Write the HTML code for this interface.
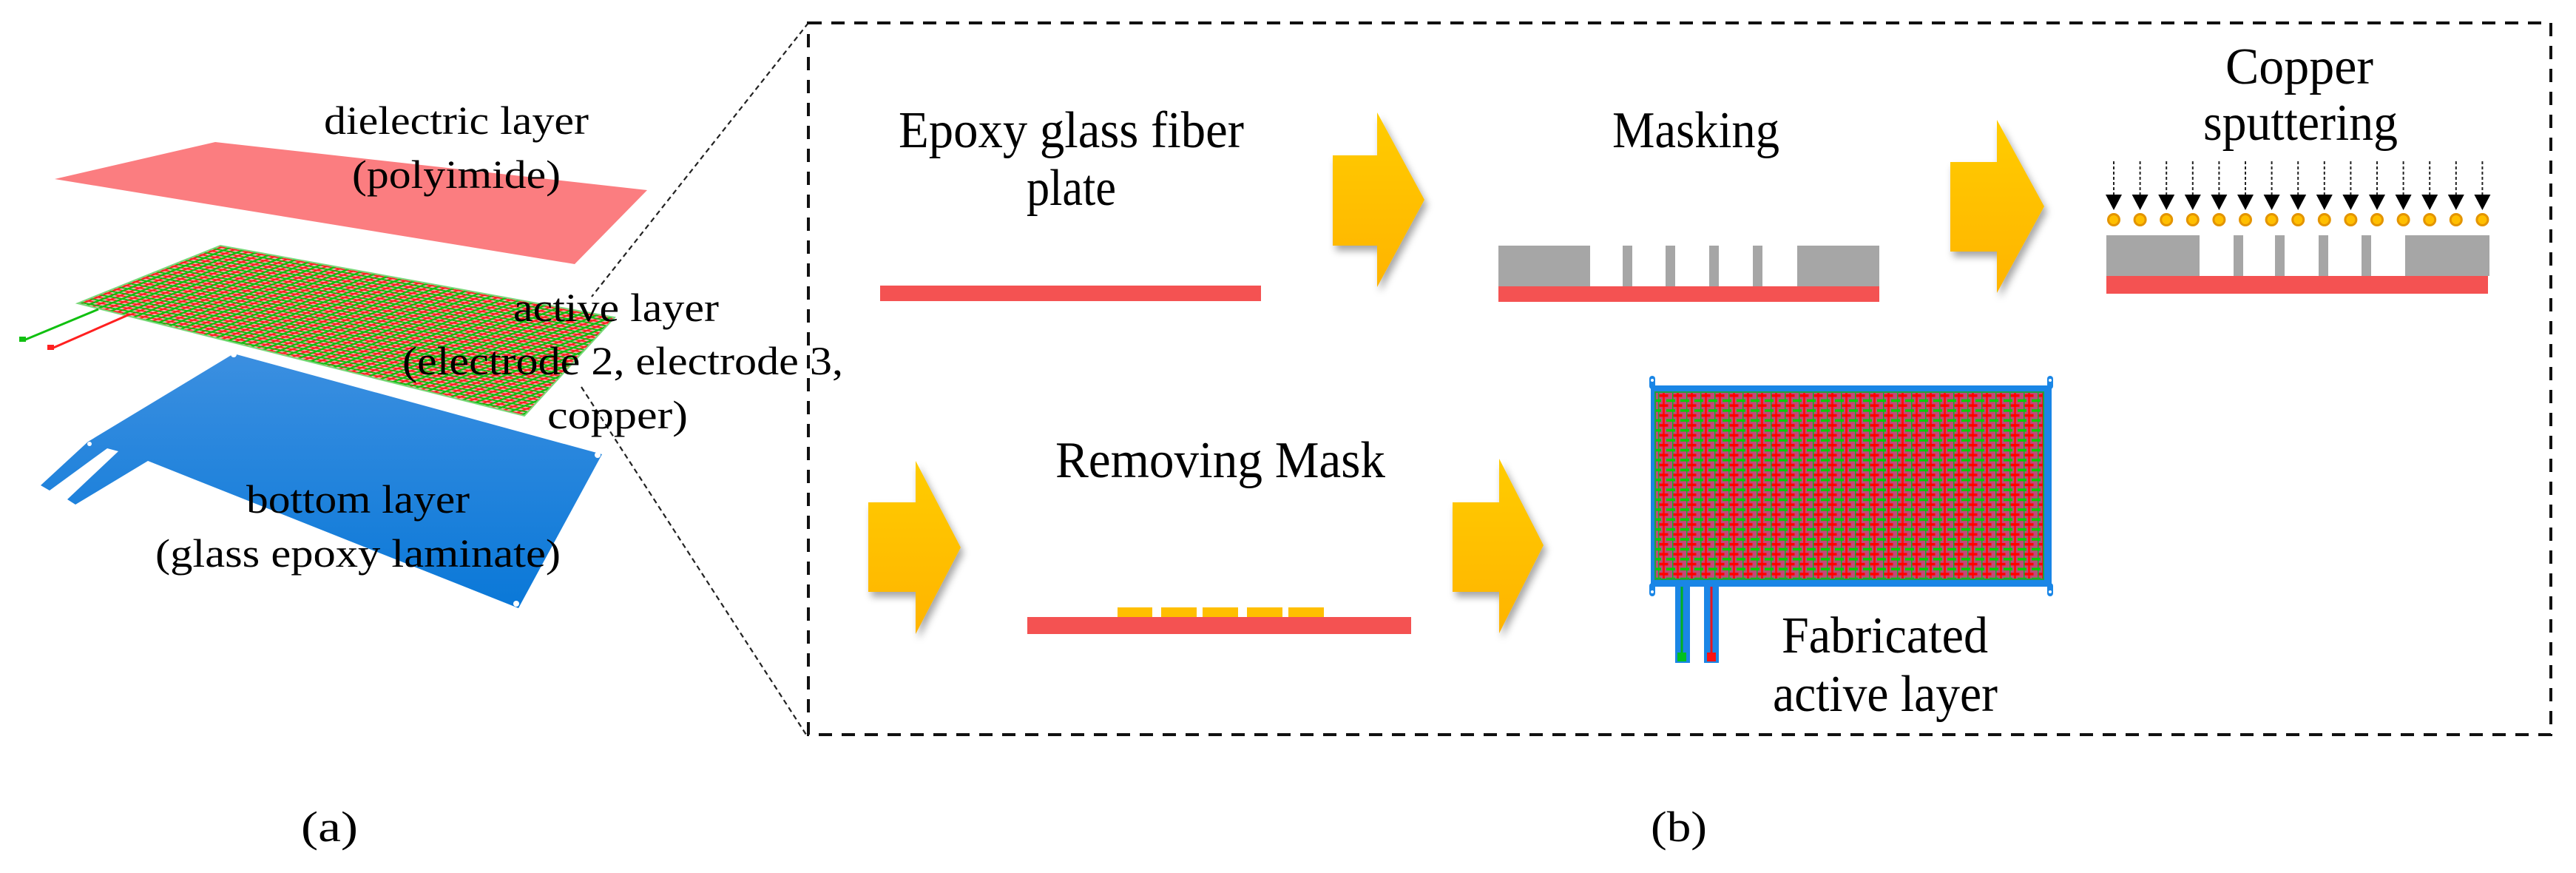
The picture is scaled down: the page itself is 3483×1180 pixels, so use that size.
<!DOCTYPE html>
<html><head><meta charset="utf-8"><style>html,body{margin:0;padding:0;background:#fff}svg{display:block}text{font-family:"Liberation Serif","DejaVu Serif",serif}</style></head>
<body>
<svg width="3483" height="1180" viewBox="0 0 3483 1180" xmlns="http://www.w3.org/2000/svg" style="font-family:'Liberation Serif',serif" fill="#000">
<defs>
  <filter id="sh" x="-30%" y="-30%" width="160%" height="160%">
    <feDropShadow dx="4" dy="7" stdDeviation="5" flood-color="#000" flood-opacity="0.35"/>
  </filter>
  <linearGradient id="yg" x1="0" y1="0" x2="0" y2="1">
    <stop offset="0" stop-color="#ffcc00"/><stop offset="1" stop-color="#ffb400"/>
  </linearGradient>
  <linearGradient id="bg" x1="0" y1="0" x2="0" y2="1">
    <stop offset="0" stop-color="#3b8fe0"/><stop offset="1" stop-color="#0a78d8"/>
  </linearGradient>
  <pattern id="act" patternUnits="userSpaceOnUse" width="10" height="10" patternTransform="matrix(0.0592 0.0108 -0.0429 0.0173 298 332) scale(30)">
    <rect width="10" height="10" fill="#f0b0b0"/>
    <rect x="0" y="1.5" width="10" height="2.2" fill="#ff2020"/>
    <rect x="1.5" y="0" width="2.2" height="10" fill="#ff2020"/>
    <rect x="0" y="6.5" width="10" height="2.4" fill="#10c010"/>
    <rect x="6.5" y="0" width="2.4" height="10" fill="#10c010"/>
  </pattern>
  <pattern id="fab" patternUnits="userSpaceOnUse" x="2240" y="532" width="19" height="13.4">
    <rect width="19" height="13.4" fill="#c04a78"/>
    <rect x="2" y="0" width="1.5" height="13.4" fill="#10b030"/>
    <rect x="8" y="0" width="3" height="13.4" fill="#ff1010"/>
    <rect x="3.5" y="1" width="12" height="3.5" fill="#ff0000"/>
    <rect x="13" y="7.7" width="6" height="3.5" fill="#00d000"/>
    <rect x="0" y="7.7" width="6" height="3.5" fill="#00d000"/>
  </pattern>
</defs>

<line x1="1093" y1="31" x2="800" y2="401" stroke="#222" stroke-width="2.2" stroke-dasharray="7,5"/>
<line x1="786" y1="523" x2="1092" y2="996" stroke="#222" stroke-width="2.2" stroke-dasharray="7,5"/>
<rect x="1093" y="31" width="2356" height="962" fill="none" stroke="#111" stroke-width="4" stroke-dasharray="18,13"/>

<polygon points="74,242 291,192 875,257 777,357" fill="#fb7d80"/>
<polygon points="105,410 298,332 831,429 709,562" fill="url(#act)" stroke="#7ad87a" stroke-width="2"/>
<line x1="133" y1="418" x2="32" y2="460" stroke="#10c010" stroke-width="3"/>
<rect x="26" y="455" width="9" height="7" fill="#10c010"/>
<line x1="175" y1="425" x2="70" y2="471" stroke="#ff2020" stroke-width="3"/>
<rect x="64" y="466" width="9" height="7" fill="#ff2020"/>
<polygon points="316,478 814,614 701,822 200,623 102,682 91,675 160,610 145,606 67,663 55,656 119,597" fill="url(#bg)"/>
<circle cx="316" cy="479" r="4" fill="#fff"/><circle cx="808" cy="615" r="4" fill="#fff"/><circle cx="698" cy="816" r="4" fill="#fff"/><circle cx="121" cy="600" r="3" fill="#fff"/>

<text x="438" y="181" font-size="54" textLength="358" lengthAdjust="spacingAndGlyphs">dielectric layer</text>
<text x="476" y="254" font-size="54" textLength="282" lengthAdjust="spacingAndGlyphs">(polyimide)</text>
<text x="694" y="434" font-size="54" textLength="278" lengthAdjust="spacingAndGlyphs">active layer</text>
<text x="544" y="506" font-size="54" textLength="596" lengthAdjust="spacingAndGlyphs">(electrode 2, electrode 3,</text>
<text x="740" y="579" font-size="54" textLength="190" lengthAdjust="spacingAndGlyphs">copper)</text>
<text x="333" y="693" font-size="54" textLength="302" lengthAdjust="spacingAndGlyphs">bottom layer</text>
<text x="210" y="766" font-size="54" textLength="548" lengthAdjust="spacingAndGlyphs">(glass epoxy laminate)</text>
<text x="407" y="1137" font-size="58" textLength="77" lengthAdjust="spacingAndGlyphs">(a)</text>
<text x="2232" y="1137" font-size="58" textLength="76" lengthAdjust="spacingAndGlyphs">(b)</text>

<text x="1215" y="199" font-size="70" textLength="467" lengthAdjust="spacingAndGlyphs">Epoxy glass  fiber</text>
<text x="1388" y="277" font-size="70" textLength="121" lengthAdjust="spacingAndGlyphs">plate</text>
<rect x="1190" y="386" width="515" height="21" fill="#f45252"/>

<g fill="url(#yg)" filter="url(#sh)">
  <polygon points="1802,210 1862,210 1862,152 1926,270 1862,388 1862,332 1802,332"/>
  <polygon points="2637,219 2700,219 2700,162 2764,279 2700,396 2700,340 2637,340"/>
  <polygon points="1174,679 1238,679 1238,623 1299,740 1238,857 1238,800 1174,800"/>
  <polygon points="1964,679 2027,679 2027,620 2087,737 2027,856 2027,800 1964,800"/>
</g>

<text x="2180" y="199" font-size="70" textLength="226" lengthAdjust="spacingAndGlyphs">Masking</text>
<g fill="#a6a6a6">
  <rect x="2026" y="332" width="124" height="55"/>
  <rect x="2194" y="332" width="13" height="55"/>
  <rect x="2252" y="332" width="13" height="55"/>
  <rect x="2311" y="332" width="13" height="55"/>
  <rect x="2370" y="332" width="13" height="55"/>
  <rect x="2430" y="332" width="111" height="55"/>
</g>
<rect x="2026" y="387" width="515" height="21" fill="#f45252"/>

<text x="3009" y="113" font-size="70" textLength="200" lengthAdjust="spacingAndGlyphs">Copper</text>
<text x="2979" y="189" font-size="70" textLength="263" lengthAdjust="spacingAndGlyphs">sputtering</text>
<g>
  <g stroke="#222" stroke-width="2" stroke-dasharray="4,3">
    <line x1="2858" y1="218" x2="2858" y2="265"/><line x1="2893.6" y1="218" x2="2893.6" y2="265"/><line x1="2929.2" y1="218" x2="2929.2" y2="265"/><line x1="2964.8" y1="218" x2="2964.8" y2="265"/><line x1="3000.4" y1="218" x2="3000.4" y2="265"/><line x1="3036" y1="218" x2="3036" y2="265"/><line x1="3071.6" y1="218" x2="3071.6" y2="265"/><line x1="3107.2" y1="218" x2="3107.2" y2="265"/><line x1="3142.8" y1="218" x2="3142.8" y2="265"/><line x1="3178.4" y1="218" x2="3178.4" y2="265"/><line x1="3214" y1="218" x2="3214" y2="265"/><line x1="3249.6" y1="218" x2="3249.6" y2="265"/><line x1="3285.2" y1="218" x2="3285.2" y2="265"/><line x1="3320.8" y1="218" x2="3320.8" y2="265"/><line x1="3356.4" y1="218" x2="3356.4" y2="265"/>
  </g>
  <g fill="#000">
    <polygon points="2847,263 2869,263 2858,284"/><polygon points="2882.6,263 2904.6,263 2893.6,284"/><polygon points="2918.2,263 2940.2,263 2929.2,284"/><polygon points="2953.8,263 2975.8,263 2964.8,284"/><polygon points="2989.4,263 3011.4,263 3000.4,284"/><polygon points="3025,263 3047,263 3036,284"/><polygon points="3060.6,263 3082.6,263 3071.6,284"/><polygon points="3096.2,263 3118.2,263 3107.2,284"/><polygon points="3131.8,263 3153.8,263 3142.8,284"/><polygon points="3167.4,263 3189.4,263 3178.4,284"/><polygon points="3203,263 3225,263 3214,284"/><polygon points="3238.6,263 3260.6,263 3249.6,284"/><polygon points="3274.2,263 3296.2,263 3285.2,284"/><polygon points="3309.8,263 3331.8,263 3320.8,284"/><polygon points="3345.4,263 3367.4,263 3356.4,284"/>
  </g>
  <g fill="#ffbf00" stroke="#e39400" stroke-width="3">
    <circle cx="2858" cy="297" r="7.5"/><circle cx="2893.6" cy="297" r="7.5"/><circle cx="2929.2" cy="297" r="7.5"/><circle cx="2964.8" cy="297" r="7.5"/><circle cx="3000.4" cy="297" r="7.5"/><circle cx="3036" cy="297" r="7.5"/><circle cx="3071.6" cy="297" r="7.5"/><circle cx="3107.2" cy="297" r="7.5"/><circle cx="3142.8" cy="297" r="7.5"/><circle cx="3178.4" cy="297" r="7.5"/><circle cx="3214" cy="297" r="7.5"/><circle cx="3249.6" cy="297" r="7.5"/><circle cx="3285.2" cy="297" r="7.5"/><circle cx="3320.8" cy="297" r="7.5"/><circle cx="3356.4" cy="297" r="7.5"/>
  </g>
</g>
<g fill="#a6a6a6">
  <rect x="2848" y="318" width="126" height="55"/>
  <rect x="3020" y="318" width="13" height="55"/>
  <rect x="3076" y="318" width="13" height="55"/>
  <rect x="3135" y="318" width="13" height="55"/>
  <rect x="3193" y="318" width="13" height="55"/>
  <rect x="3252" y="318" width="114" height="55"/>
</g>
<rect x="2848" y="373" width="516" height="24" fill="#f45252"/>

<text x="1427" y="645" font-size="70" textLength="446" lengthAdjust="spacingAndGlyphs">Removing  Mask</text>
<g fill="#ffbf00">
  <rect x="1511" y="821" width="47" height="14"/><rect x="1570" y="821" width="48" height="14"/><rect x="1626" y="821" width="48" height="14"/><rect x="1686" y="821" width="48" height="14"/><rect x="1742" y="821" width="48" height="14"/>
</g>
<rect x="1389" y="834" width="519" height="23" fill="#f45252"/>

<rect x="2265" y="790" width="20" height="106" fill="#1a86e6"/>
<rect x="2304" y="790" width="20" height="106" fill="#1a86e6"/>
<line x1="2274" y1="782" x2="2274" y2="884" stroke="#00b020" stroke-width="3"/>
<line x1="2314" y1="782" x2="2314" y2="884" stroke="#e8141e" stroke-width="3"/>
<rect x="2268" y="882" width="12" height="12" fill="#00c020"/>
<rect x="2308" y="882" width="12" height="12" fill="#ff1010"/>
<rect x="2232" y="521" width="542" height="272" fill="#1a86e6"/>
<rect x="2230" y="508" width="8" height="18" rx="4" fill="#1a86e6"/><rect x="2768" y="508" width="8" height="18" rx="4" fill="#1a86e6"/>
<rect x="2230" y="788" width="8" height="18" rx="4" fill="#1a86e6"/><rect x="2768" y="788" width="8" height="18" rx="4" fill="#1a86e6"/>
<circle cx="2234" cy="514" r="2" fill="#fff"/><circle cx="2772" cy="514" r="2" fill="#fff"/><circle cx="2234" cy="800" r="2" fill="#fff"/><circle cx="2772" cy="800" r="2" fill="#fff"/>
<rect x="2238" y="530" width="525" height="253" fill="url(#fab)" stroke="#20a040" stroke-width="2"/>
<text x="2409" y="882" font-size="70" textLength="279" lengthAdjust="spacingAndGlyphs">Fabricated</text>
<text x="2397" y="961" font-size="70" textLength="304" lengthAdjust="spacingAndGlyphs">active  layer</text>
</svg>
</body></html>
